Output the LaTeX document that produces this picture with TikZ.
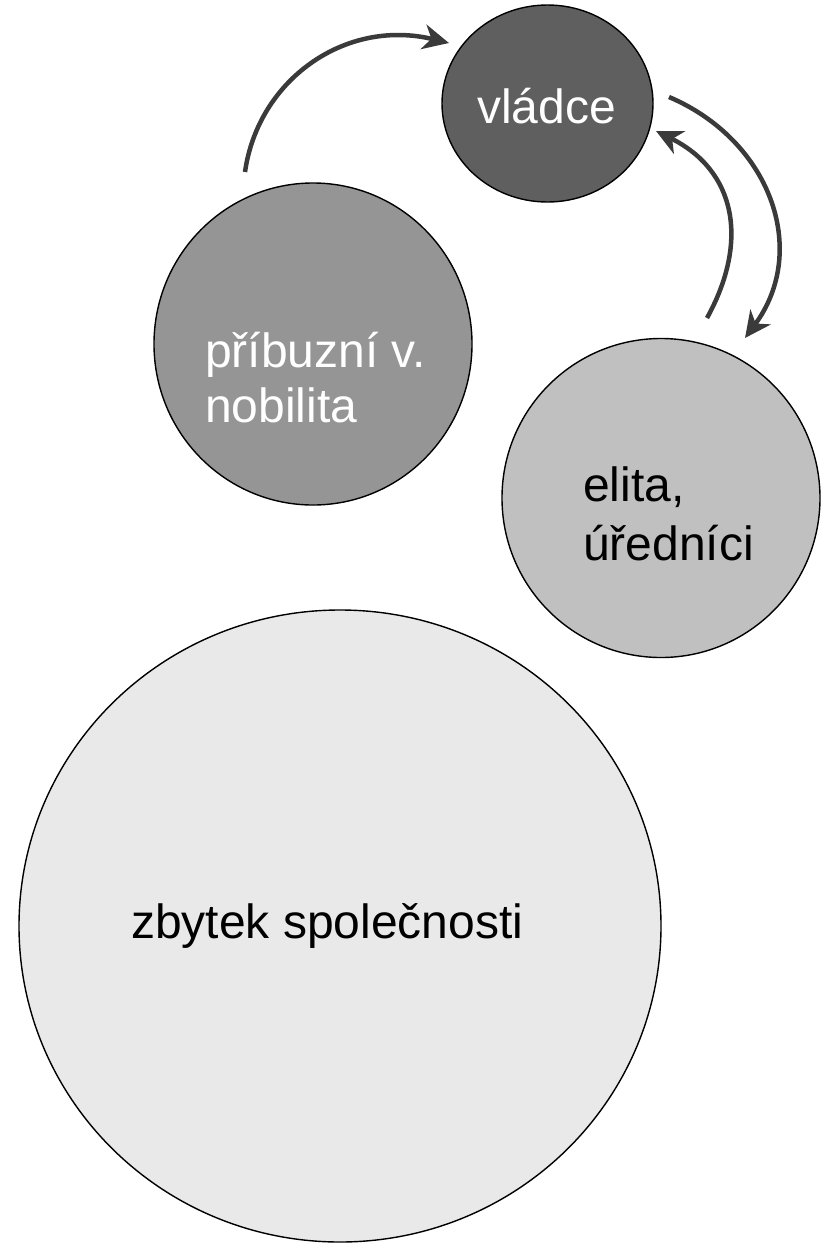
\documentclass[tikz,border=0pt]{standalone}
\usepackage{fontspec}
\setmainfont{Liberation Sans}
\usetikzlibrary{shapes.geometric,arrows.meta}
\definecolor{rulerfill}{HTML}{5F5F5F}
\definecolor{kinfill}{HTML}{959595}
\definecolor{elitefill}{HTML}{C0C0C0}
\definecolor{restfill}{HTML}{E9E9E9}
\definecolor{arrowc}{HTML}{3A3A3A}
\tikzset{
  blob/.style={ellipse, draw=black, line width=1.4bp, inner sep=0pt},
  lbl/.style={anchor=base west, inner sep=0pt, font=\fontsize{48bp}{57bp}\selectfont},
  flow/.style={draw=arrowc, line width=4.5bp,
    -{Stealth[length=26bp,width=25bp,inset=8bp]}}
}
\begin{document}
\begin{tikzpicture}[x=1bp,y=-1bp]
\useasboundingbox (0,0) rectangle (827,1243);
% circles
\node[blob, fill=restfill, minimum width=642bp, minimum height=632bp] (rest) at (340,926) {};
\node[blob, fill=elitefill, minimum width=318bp, minimum height=319bp] (elite) at (661,498) {};
\node[blob, fill=kinfill, minimum width=318bp, minimum height=322bp] (kin) at (313,344) {};
\node[blob, fill=rulerfill, minimum width=211bp, minimum height=197bp] (ruler) at (547.5,103.5) {};
% labels
\node[lbl, text=white] (rulerlbl) at (477,123) {vládce};
\node[lbl, text=white] (kinlbl1) at (205,367) {příbuzní v.};
\node[lbl, text=white] (kinlbl2) at (205,422) {nobilita};
\node[lbl, text=black] (elitelbl1) at (583,501) {elita,};
\node[lbl, text=black] (elitelbl2) at (583,560) {úředníci};
\node[lbl, text=black] (restlbl) at (131,938) {zbytek společnosti};
% arrow end points
\coordinate (a1s) at (245,172);
\coordinate (a1e) at (449,43);
\coordinate (a2s) at (669,97);
\coordinate (a2e) at (745,338);
\coordinate (a3s) at (707,318);
\coordinate (a3e) at (656,131);
% arrows
\draw[flow] (a1s) .. controls (258,80) and (345,18) .. (a1e);
\draw[flow] (a2s) .. controls (770,140) and (810,250) .. (a2e);
\draw[flow] (a3s) .. controls (750,240) and (735,170) .. (a3e);
\end{tikzpicture}
\end{document}
